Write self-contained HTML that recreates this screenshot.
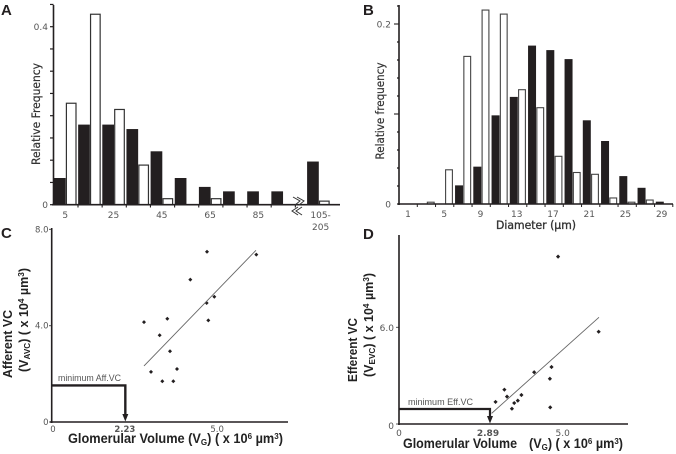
<!DOCTYPE html>
<html lang="en">
<head>
<meta charset="utf-8">
<title>Relative frequency histograms and volume scatter plots</title>
<style>
html,body{margin:0;padding:0;background:#fff;width:676px;height:454px;overflow:hidden}
svg{display:block;filter:blur(.3px)}
.tick{font-family:"DejaVu Sans",sans-serif;font-size:9px;fill:#555}
.axt{font-family:"DejaVu Sans",sans-serif;font-size:11.5px;fill:#333}
.bt{font-family:"Liberation Sans",sans-serif;font-weight:bold;fill:#222}
.letter{font-family:"Liberation Sans",sans-serif;font-weight:bold;font-size:15px;fill:#231f20}
.ann{font-family:"Liberation Sans",sans-serif;font-size:9.5px;fill:#555}
</style>
</head>
<body>
<svg id="fig" xmlns="http://www.w3.org/2000/svg" width="676" height="454" viewBox="0 0 676 454">
<rect width="676" height="454" fill="#fff"/>

<text class="letter" x="1" y="15">A</text>
<text class="letter" x="363" y="15">B</text>
<text class="letter" x="1" y="238">C</text>
<text class="letter" x="363" y="239">D</text>

<!-- Panel A -->
<g id="a"></g>
<line x1="53.5" y1="5" x2="53.5" y2="205.5" stroke="#231f20" stroke-width="1.6"/>
<line x1="52" y1="204.7" x2="340" y2="204.7" stroke="#231f20" stroke-width="1.6"/>
<g fill="none" stroke="#333" stroke-width="1">
<polyline points="293,197 300,201 295,205"/><polyline points="297,197 304,201 299,205"/>
<polyline points="298,207 292,211 298,215"/><polyline points="302,207 296,211 302,215"/>
</g>
<text class="axt" transform="translate(40,114) rotate(-90)" text-anchor="middle" textLength="102" lengthAdjust="spacingAndGlyphs" stroke="#333" stroke-width=".2">Relative Frequency</text>

<!-- Panel B -->
<g id="b"></g>
<line x1="399" y1="5" x2="399" y2="205" stroke="#231f20" stroke-width="1.6"/>
<line x1="398" y1="204" x2="673" y2="204" stroke="#231f20" stroke-width="1.6"/>
<text class="axt" transform="translate(384,111) rotate(-90)" text-anchor="middle" textLength="97" lengthAdjust="spacingAndGlyphs" stroke="#333" stroke-width=".2">Relative frequency</text>
<text class="axt" x="536" y="229" text-anchor="middle" textLength="80" lengthAdjust="spacingAndGlyphs" stroke="#333" stroke-width=".35">Diameter (µm)</text>

<!-- Panel C -->
<g id="c"></g>
<line x1="51.7" y1="228" x2="51.7" y2="423" stroke="#231f20" stroke-width="1.6"/>
<line x1="50" y1="422" x2="288" y2="422" stroke="#231f20" stroke-width="1.4"/>
<text class="ann" x="58" y="381" textLength="63" lengthAdjust="spacingAndGlyphs">minimum Aff.VC</text>
<text class="bt" x="68" y="443" font-size="13.5" textLength="215" lengthAdjust="spacingAndGlyphs">Glomerular Volume  (V<tspan font-size="8.5" dy="2">G</tspan><tspan dy="-2">) ( x 10</tspan><tspan font-size="8.5" dy="-4">6</tspan><tspan dy="4"> µm</tspan><tspan font-size="8.5" dy="-4">3</tspan><tspan dy="4">)</tspan></text>
<text class="bt" transform="translate(12,344) rotate(-90)" text-anchor="middle" font-size="13" textLength="68" lengthAdjust="spacingAndGlyphs">Afferent VC</text>
<text class="bt" transform="translate(28,320) rotate(-90)" text-anchor="middle" font-size="13" textLength="104" lengthAdjust="spacingAndGlyphs">(V<tspan font-size="8.5" dy="2">AVC</tspan><tspan dy="-2">) ( x 10</tspan><tspan font-size="8.5" dy="-4">4</tspan><tspan dy="4"> µm</tspan><tspan font-size="8.5" dy="-4">3</tspan><tspan dy="4">)</tspan></text>

<!-- Panel D -->
<g id="d"></g>
<line x1="399" y1="235" x2="399" y2="425" stroke="#231f20" stroke-width="1.6"/>
<line x1="398" y1="424" x2="628" y2="424" stroke="#231f20" stroke-width="1.6"/>
<text class="ann" x="408" y="405" textLength="65" lengthAdjust="spacingAndGlyphs">minimum Eff.VC</text>
<text class="bt" x="403" y="448" font-size="13.5" textLength="114" lengthAdjust="spacingAndGlyphs">Glomerular Volume</text>
<text class="bt" x="529" y="448" font-size="13.5" textLength="94" lengthAdjust="spacingAndGlyphs">(V<tspan font-size="8.5" dy="2">G</tspan><tspan dy="-2">) ( x 10</tspan><tspan font-size="8.5" dy="-4">6</tspan><tspan dy="4"> µm</tspan><tspan font-size="8.5" dy="-4">3</tspan><tspan dy="4">)</tspan></text>
<text class="bt" transform="translate(357,350) rotate(-90)" text-anchor="middle" font-size="13" textLength="64" lengthAdjust="spacingAndGlyphs">Efferent VC</text>
<text class="bt" transform="translate(373,325) rotate(-90)" text-anchor="middle" font-size="13" textLength="104" lengthAdjust="spacingAndGlyphs">(V<tspan font-size="8.5" dy="2">EVC</tspan><tspan dy="-2">) ( x 10</tspan><tspan font-size="8.5" dy="-4">4</tspan><tspan dy="4"> µm</tspan><tspan font-size="8.5" dy="-4">3</tspan><tspan dy="4">)</tspan></text>
</svg>

<script>
// Panel A values
const aBins = ['5', '15', '25', '35', '45', '55', '65', '75', '85', '95', '105-205'];
const aBlack = [0.06, 0.18, 0.18, 0.17, 0.12, 0.06, 0.04, 0.03, 0.03, 0.03, 0.097];
const aWhite = [0.228, 0.428, 0.214, 0.089, 0.0135, 0, 0.0135, 0, 0, 0, 0.008];
const aYTicks = [0, 0.05, 0.1, 0.15, 0.2, 0.25, 0.3, 0.35, 0.4, 0.45];
const aYLabels = ['0', '0.4'];
const aXLabels = ['5', '25', '45', '65', '85'];

// Panel B values
const bBins = [1, 3, 5, 7, 9, 11, 13, 15, 17, 19, 21, 23, 25, 27, 29];
const bBlack = [0, 0, 0, 0.0207, 0.0415, 0.0985, 0.119, 0.176, 0.171, 0.161, 0.093, 0.07, 0.031, 0.018, 0.0026];
const bWhite = [0, 0.002, 0.038, 0.164, 0.2155, 0.211, 0.127, 0.107, 0.053, 0.035, 0.033, 0.0067, 0.002, 0.0044, 0];
const bYTicks = [0, 0.02, 0.04, 0.06, 0.08, 0.1, 0.12, 0.14, 0.16, 0.18, 0.2, 0.22];
const bYLabels = ['0', '0.2'];
const bXLabels = [1, 5, 9, 13, 17, 21, 25, 29];

// Panel C values
const cVg = [2.76, 2.97, 3.23, 3.31, 3.46, 3.54, 3.64, 3.75, 4.15, 4.64, 4.65, 4.69, 4.87, 6.13];
const cVc = [4.15, 2.08, 3.60, 1.69, 4.29, 2.94, 1.69, 2.20, 5.91, 4.94, 7.07, 4.22, 5.20, 6.95];
const cFitX = [2.76, 6.12];
const cFitY = [2.33, 7.13];
const cMinimumX = [2.2];
const cMinimumY = [1.52];
const cYLabels = ['0', '4.0', '8.0'];
const cXLabels = ['0', '2.23', '5.0'];

// Panel D values
const dVg = [2.95, 3.22, 3.30, 3.45, 3.52, 3.63, 3.74, 4.13, 4.61, 4.62, 4.66, 4.86, 6.10];
const dVc = [1.37, 2.13, 1.70, 0.95, 1.30, 1.45, 1.80, 3.21, 2.81, 1.03, 3.54, 10.39, 5.73];
const dFitX = [2.83, 6.11];
const dFitY = [0.66, 6.62];
const dMinimumX = [2.78];
const dMinimumY = [0.93];
const dYLabels = ['0', '6.0'];
const dXLabels = ['0', '2.89', '5.0'];

const NS = 'http://www.w3.org/2000/svg';
const ink = '#231f20';

function make(parentId, tag, attrs) {
  const el = document.createElementNS(NS, tag);
  for (const k in attrs) el.setAttribute(k, attrs[k]);
  document.getElementById(parentId).appendChild(el);
  return el;
}

// Axis functions
const axY = v => 204.7 - v * 445;
const axGroup = i => 54 + i * 24.15 + (i === 10 ? 11.6 : 0);
const bxY = v => 204 - v * 900;
const bxGroup = i => 400.3 + i * 18.25;
const cxX = v => 52 + v * 33.33;
const cxY = v => 422 - v * 24.08;
const dxX = v => 399 + v * 32.73;
const dxY = v => 424 - v * 16.11;

// Panel A draw
aYTicks.forEach(function (v) {
  const t = make('a', 'line', {x1: 50, x2: 53.5, y1: axY(v), y2: axY(v), stroke: ink, 'stroke-width': 1.2});
  
  
});
aYLabels.forEach(function (s) {
  const t = make('a', 'text', {class: 'tick', x: 48, y: axY(Number(s)) + 3.5, 'text-anchor': 'end'});
  t.textContent = s;
  
  
});
aBins.forEach(function (bin, i) {
  const x = axGroup(i);
  if (aBlack[i] > 0) {
    const k = make('a', 'rect', {x: x, y: axY(aBlack[i]), width: 11.7, height: axY(0) - axY(aBlack[i]), fill: ink});
    
    
  }
  if (aWhite[i] > 0) {
    const w = make('a', 'rect', {x: x + 12.4, y: axY(aWhite[i]), width: 9.6, height: axY(0) - axY(aWhite[i]), fill: '#fff', stroke: '#333', 'stroke-width': 1.2});
    
    
  }
  if (i < 10) {
    const t = make('a', 'line', {x1: x + 24, x2: x + 24, y1: 204.7, y2: 207.5, stroke: ink, 'stroke-width': 1.1});
    
    
  }
});
aXLabels.forEach(function (s) {
  const i = aBins.indexOf(s);
  const t = make('a', 'text', {class: 'tick', x: axGroup(i) + 11.2, y: 218, 'text-anchor': 'middle'});
  t.textContent = s;
  
  
});
const lastA = aBins[aBins.length - 1].split('-');
const la1 = make('a', 'text', {class: 'tick', x: axGroup(10) + 13.5, y: 218, 'text-anchor': 'middle'});
la1.textContent = lastA[0] + '-';


const la2 = make('a', 'text', {class: 'tick', x: axGroup(10) + 13.5, y: 230, 'text-anchor': 'middle'});
la2.textContent = lastA[1];



// Panel B draw
bYTicks.forEach(function (v, i) {
  const major = i === 5 || i === 10;
  const t = make('b', 'line', {x1: major ? 394 : 397, x2: 399, y1: bxY(v), y2: bxY(v), stroke: ink, 'stroke-width': major ? 1.1 : 1.3});
  
  
});
bYLabels.forEach(function (s) {
  const t = make('b', 'text', {class: 'tick', x: 391, y: bxY(Number(s)) + 3.5, 'text-anchor': 'end'});
  t.textContent = s;
  
  
});
bBins.forEach(function (bin, i) {
  const x = bxGroup(i);
  if (bBlack[i] > 0) {
    const k = make('b', 'rect', {x: x, y: bxY(bBlack[i]), width: 8, height: bxY(0) - bxY(bBlack[i]), fill: ink});
    
    
  }
  if (bWhite[i] > 0) {
    const w = make('b', 'rect', {x: x + 8.8, y: bxY(bWhite[i]), width: 6.8, height: bxY(0) - bxY(bWhite[i]), fill: '#fff', stroke: '#444', 'stroke-width': 1.1});
    
    
  }
  const t = make('b', 'line', {x1: x + 17, x2: x + 17, y1: 204, y2: 207, stroke: ink, 'stroke-width': 1});
  
  
});
bXLabels.forEach(function (s) {
  const i = bBins.indexOf(s);
  const t = make('b', 'text', {class: 'tick', x: 408 + i * 18.12, y: 217, 'text-anchor': 'middle'});
  t.textContent = String(s);
  
  
});

// Panel C draw
cVg.forEach(function (v, i) {
  const px = cxX(v);
  const py = cxY(cVc[i]);
  const p = make('c', 'polygon', {points: [px, py - 2, px + 2, py, px, py + 2, px - 2, py].join(' '), fill: ink});
  
  
});
const cFit = make('c', 'line', {x1: cxX(cFitX[0]), y1: cxY(cFitY[0]), x2: cxX(cFitX[1]), y2: cxY(cFitY[1]), stroke: '#666', 'stroke-width': .9});


const cMin = make('c', 'polyline', {points: [cxX(0), cxY(cMinimumY[0]), cxX(cMinimumX[0]), cxY(cMinimumY[0]), cxX(cMinimumX[0]), 415].join(' '), fill: 'none', stroke: ink, 'stroke-width': 2.4});


const cHead = make('c', 'polygon', {points: [cxX(cMinimumX[0]) - 3, 414, cxX(cMinimumX[0]) + 3, 414, cxX(cMinimumX[0]), 421.5].join(' '), fill: ink});


cYLabels.forEach(function (s) {
  const v = Number(s);
  const tk = make('c', 'line', {x1: 49, x2: 52, y1: cxY(v), y2: cxY(v), stroke: '#555', 'stroke-width': 1});
  
  
  const t = make('c', 'text', {class: 'tick', x: 48.5, y: cxY(v) + 3, 'text-anchor': 'end', style: 'font-size:8.5px'});
  t.textContent = s;
  
  
});
cXLabels.forEach(function (s) {
  const t = make('c', 'text', {class: 'tick', x: cxX(Number(s)) + (s === '0' ? 1 : -1.5), y: 432, 'text-anchor': 'middle', style: 'font-size:8.5px' + (s === '2.23' ? ';font-weight:bold' : '')});
  t.textContent = s;
  
  
});

// Panel D draw
dVg.forEach(function (v, i) {
  const px = dxX(v);
  const py = dxY(dVc[i]);
  const p = make('d', 'polygon', {points: [px, py - 2.1, px + 2.1, py, px, py + 2.1, px - 2.1, py].join(' '), fill: ink});
  
  
});
const dFit = make('d', 'line', {x1: dxX(dFitX[0]), y1: dxY(dFitY[0]), x2: dxX(dFitX[1]), y2: dxY(dFitY[1]), stroke: '#666', 'stroke-width': .9});


const dMin = make('d', 'polyline', {points: [dxX(0), dxY(dMinimumY[0]), dxX(dMinimumX[0]), dxY(dMinimumY[0]), dxX(dMinimumX[0]), 417].join(' '), fill: 'none', stroke: ink, 'stroke-width': 2.2});


const dHead = make('d', 'polygon', {points: [dxX(dMinimumX[0]) - 3, 416, dxX(dMinimumX[0]) + 3, 416, dxX(dMinimumX[0]), 423.5].join(' '), fill: ink});


dYLabels.forEach(function (s) {
  const v = Number(s);
  const tk = make('d', 'line', {x1: 396, x2: 399, y1: dxY(v), y2: dxY(v), stroke: '#555', 'stroke-width': 1});
  
  
  const t = make('d', 'text', {class: 'tick', x: 394, y: dxY(v) + 5 - (v ? 1.5 : 0), 'text-anchor': 'end'});
  t.textContent = s;
  
  
});
dXLabels.forEach(function (s) {
  const shown = s === '2.89' ? dMinimumX[0] : Number(s);
  const t = make('d', 'text', {class: 'tick', x: dxX(shown) + (s === '2.89' ? -2 : 0), y: 436, 'text-anchor': 'middle', style: s === '2.89' ? 'font-weight:bold;font-size:9px' : ''});
  t.textContent = s;
  
  
});
</script>
</body>
</html>
